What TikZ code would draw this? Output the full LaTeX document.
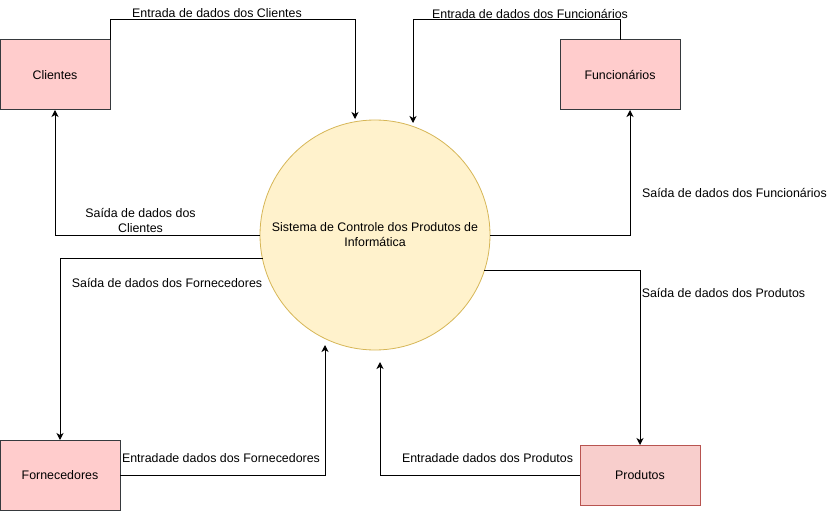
\documentclass[tikz,border=0pt]{standalone}
\usepackage{fontspec}
\setmainfont{Liberation Sans}
\usetikzlibrary{arrows.meta}
\definecolor{boxfill}{HTML}{FFCCCC}
\definecolor{boxline}{HTML}{36393D}
\definecolor{prodfill}{HTML}{F8CECC}
\definecolor{prodline}{HTML}{B85450}
\definecolor{sysfill}{HTML}{FFF2CC}
\definecolor{sysline}{HTML}{D6B656}
\begin{document}
\begin{tikzpicture}[x=1pt,y=-1pt,
  every node/.style={font=\fontsize{12.4pt}{14pt}\selectfont},
  entity/.style={draw=boxline,fill=boxfill,line width=1pt,minimum width=110pt,minimum height=70pt,inner sep=0pt,outer sep=0pt},
  process/.style={circle,draw=sysline,fill=sysfill,line width=0.8pt,minimum size=230pt,inner sep=0pt,outer sep=0pt,align=center},
  flow/.style={draw=black,line width=1pt,-{Stealth[length=7pt,width=7pt,inset=2pt]}},
  lbl/.style={inner sep=0pt,anchor=center,align=center}]
\useasboundingbox (0,0) rectangle (831,511);
% nodes
\node[process] (sys) at (375,235) {Sistema de Controle dos Produtos de\\[1pt]Informática};
\node[entity] (cli) at (55,75) {Clientes};
\node[entity,minimum width=120pt] (fun) at (620,75) {Funcionários};
\node[entity,minimum width=120pt] (forn) at (60,475) {Fornecedores};
\node[entity,draw=prodline,fill=prodfill,minimum width=120pt,minimum height=60pt] (prod) at (640,475) {Produtos};
% free ends
\coordinate (inCli) at (355,119);
\coordinate (inFun) at (413,123);
\coordinate (inForn) at (325,345);
\coordinate (inProd) at (380,362);
% connectors
\draw[flow] (cli.north east) -- (110,20) -| (inCli);
\draw[flow] (fun.north) -- (620,20) -| (inFun);
\draw[flow] (sys.west) -| (cli.south);
\draw[flow] (sys.east) -| ([xshift=10pt]fun.south);
\draw[flow] (sys.192.56) -| (forn.north);
\draw[flow] (forn.east) -| (inForn);
\draw[flow] (prod.west) -| (inProd);
\draw[flow] (sys.342.3) -| (prod.north);
% labels
\node[lbl] (l1) at (217,13.5) {Entrada de dados dos Clientes};
\node[lbl] (l2) at (530,13.5) {Entrada de dados dos Funcionários};
\node[lbl] (l3) at (140.5,220) {Saída de dados dos\\[1pt]Clientes};
\node[lbl] (l4) at (734.5,193) {Saída de dados dos Funcionários};
\node[lbl] (l5) at (167,283) {Saída de dados dos Fornecedores};
\node[lbl] (l6) at (221,458) {Entradade dados dos Fornecedores};
\node[lbl] (l7) at (487.5,458) {Entradade dados dos Produtos};
\node[lbl] (l8) at (723.5,293) {Saída de dados dos Produtos};
\end{tikzpicture}
\end{document}
